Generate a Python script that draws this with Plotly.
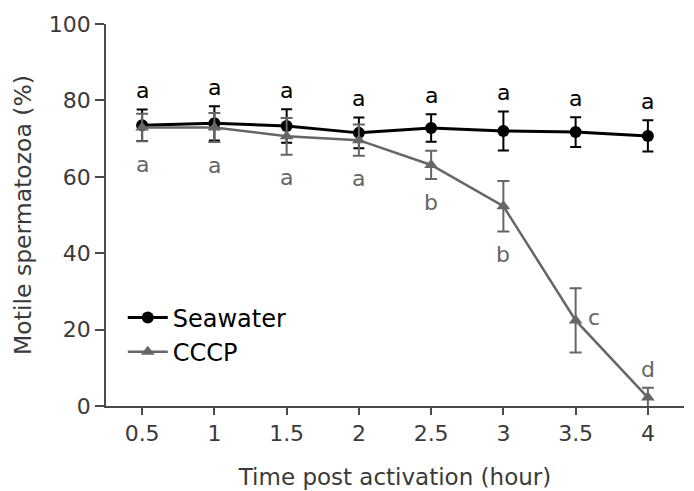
import plotly.graph_objects as go

# Data
time_h = [0.5, 1, 1.5, 2, 2.5, 3, 3.5, 4]
seawater_mean = [73.5, 74.0, 73.3, 71.5, 72.8, 72.0, 71.7, 70.7]
seawater_err = [4.1, 4.5, 4.4, 4.0, 3.6, 5.1, 3.9, 4.1]
cccp_mean = [72.9, 72.9, 70.6, 69.6, 63.1, 52.3, 22.4, 2.2]
cccp_err = [3.6, 3.8, 4.8, 4.1, 3.7, 6.6, 8.4, 2.6]
seawater_letters = ["a", "a", "a", "a", "a", "a", "a", "a"]
cccp_letters = ["a", "a", "a", "a", "b", "b", "c", "d"]
cccp_letter_side = ["below", "below", "below", "below", "below", "below", "right", "above"]
x_ticks = [0.5, 1, 1.5, 2, 2.5, 3, 3.5, 4]
y_ticks = [0, 20, 40, 60, 80, 100]

BLACK = "#000000"
GRAY = "#666666"
AXIS = "#4a4a4a"
TXT = "#3a3a3a"
FONT = "DejaVu Sans, sans-serif"

fig = go.Figure()
fig.add_trace(go.Scatter(
    x=time_h, y=seawater_mean, name="Seawater", mode="lines+markers",
    line=dict(color=BLACK, width=3),
    marker=dict(symbol="circle", size=12, color=BLACK),
    error_y=dict(type="data", array=seawater_err, color=BLACK, thickness=2, width=5.5),
    legendrank=1,
))
fig.add_trace(go.Scatter(
    x=time_h, y=cccp_mean, name="CCCP", mode="lines+markers",
    line=dict(color=GRAY, width=2.5),
    marker=dict(symbol="triangle-up", size=12, color=GRAY),
    error_y=dict(type="data", array=cccp_err, color=GRAY, thickness=2, width=6),
    legendrank=2,
))

annotations = []
for x, m, e, t in zip(time_h, seawater_mean, seawater_err, seawater_letters):
    annotations.append(dict(x=x, y=m + e, text=t, showarrow=False, yshift=19,
                            yanchor="middle", font=dict(size=22, color=BLACK, family=FONT)))
for x, m, e, t, side in zip(time_h, cccp_mean, cccp_err, cccp_letters, cccp_letter_side):
    if side == "below":
        annotations.append(dict(x=x, y=m - e, text=t, showarrow=False, yshift=-23,
                                yanchor="middle", font=dict(size=22, color=GRAY, family=FONT)))
    elif side == "right":
        annotations.append(dict(x=x, y=m, text=t, showarrow=False, xshift=18, yshift=3,
                                yanchor="middle", font=dict(size=22, color=GRAY, family=FONT)))
    else:
        annotations.append(dict(x=x, y=m + e, text=t, showarrow=False, yshift=18,
                                yanchor="middle", font=dict(size=22, color=GRAY, family=FONT)))

# the page body has an 8px default margin, so the figure is sized to fit the visible window
fig.update_layout(
    width=686, height=483,
    margin=dict(l=98, r=10, t=16, b=85, autoexpand=False),
    paper_bgcolor="white", plot_bgcolor="white",
    font=dict(family=FONT, size=22, color=TXT),
    showlegend=True,
    legend=dict(x=0.029, y=0.186, xanchor="left", yanchor="middle",
                bgcolor="rgba(0,0,0,0)", font=dict(size=24, color=BLACK, family=FONT),
                itemwidth=40, tracegroupgap=0),
    annotations=annotations,
    xaxis=dict(range=[0.25, 4.25], tickvals=x_ticks, ticktext=[str(v) for v in x_ticks],
               showgrid=False, zeroline=False, showline=True, linecolor=AXIS, linewidth=1.5,
               ticks="outside", ticklen=7, tickwidth=1.5, tickcolor=AXIS, automargin=False,
               tickfont=dict(size=22, color=TXT),
               title=dict(text="Time post activation (hour)", font=dict(size=23, color=TXT), standoff=24)),
    yaxis=dict(range=[0, 100], tickvals=y_ticks, automargin=False,
               showgrid=False, zeroline=False, showline=True, linecolor=AXIS, linewidth=1.5,
               ticks="outside", ticklen=9, tickwidth=1.5, tickcolor=AXIS,
               tickfont=dict(size=22, color=TXT),
               title=dict(text="Motile spermatozoa (%)", font=dict(size=23.5, color=TXT), standoff=11)),
)

fig.write_html("out.html")
